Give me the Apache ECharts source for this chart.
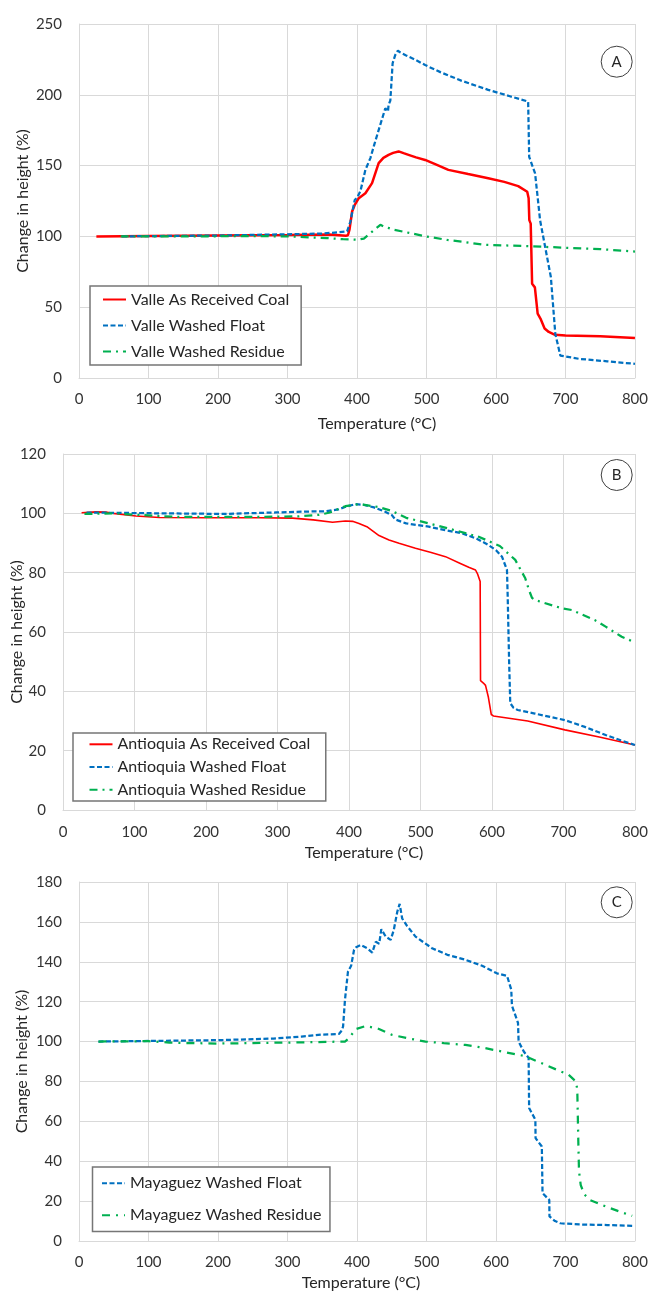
<!DOCTYPE html>
<html>
<head>
<meta charset="utf-8">
<script src="https://cdn.jsdelivr.net/npm/echarts@6/dist/echarts.min.js"></script>
<style>
html,body{margin:0;padding:0;background:#fff;}
#chart{width:651px;height:1292px;}
</style>
</head>
<body>
<div id="chart"></div>
<script>
// ---------- Data (temperature °C, change in height %) ----------
const xTicks = [0, 100, 200, 300, 400, 500, 600, 700, 800];

const valleReceived = [[25,100],[100,100.3],[200,100.6],[300,101],[360,101.3],[384,100.5],[387,100.8],[389.2,104.7],[393,117.6],[397,122.5],[402.6,127],[412.1,130.5],[421.7,137.6],[431.2,151.7],[438,155.5],[445.5,157.6],[452,159],[459.9,160],[467,158.8],[474.2,157.6],[485,155.8],[498.1,154],[515,150.5],[531.5,147],[560,144],[588.9,141.1],[612,138.5],[632,135.5],[645,131.5],[647,127],[648,111.5],[650,109],[652,66.5],[656,64],[660,45.5],[664,42],[670,35],[676,32.5],[685,30.5],[700,30],[750,29.5],[800,28.3]];
const valleFloat = [[62,100],[100,100.2],[200,100.6],[300,101.5],[350,102],[375,103],[385.8,103.5],[390.6,110.5],[396.8,125.8],[400,127],[405,132],[412.1,147],[419.3,155.3],[425,165],[433,178],[440.8,190.5],[444.6,188.2],[445.5,192.9],[448,196],[451.3,222.3],[455,228],[458.9,231.2],[462,230],[470,228],[485,224.5],[498.1,221],[520,216],[550,210],[588.9,203.5],[620,199],[646.3,195.2],[647.8,156.2],[656.3,144.5],[663.5,111.4],[670.8,92.5],[679,71.3],[685.4,31.1],[692.7,15.8],[720,13.5],[760,11.8],[800,10]];
const valleResidue = [[60,100],[150,100],[250,100.2],[300,100],[357.2,98.8],[380,98],[400.2,97.6],[410,98.5],[419.3,102.3],[433.7,108.2],[438.5,107],[445,106],[452.8,104.7],[475,102.5],[500.6,99.9],[530,97.5],[555,96],[581.9,94.1],[620,93.5],[650,93],[700,92],[750,91],[800,89.3]];

const antioquiaReceived = [[26,100.2],[46,100.5],[60,100.4],[70,100],[102,99.1],[135,98.6],[200,98.5],[275,98.5],[321,98.4],[350,97.8],[377,97],[395,97.4],[405,97.3],[414,96.6],[425,95.5],[442,92.5],[456,91],[470,89.9],[493,88.2],[515,86.8],[535,85.4],[555,83.2],[567.5,81.8],[577,80.9],[580,79.5],[583.5,77],[584,43.6],[588,42.8],[591,42],[595,38],[599,32.2],[602,31.7],[650,30],[702,27],[750,24.6],[800,21.9]];
const antioquiaFloat = [[33,100.2],[60,100.2],[100,100.1],[135,100],[228,99.8],[298,100.3],[340,100.6],[367.5,100.7],[385,101.3],[395.4,102.2],[409,103.1],[420,102.9],[435,102],[450,100.6],[460,99.4],[465,97.9],[480,96.6],[511.7,95.5],[535,94.3],[558,93.3],[580,91.3],[595.3,89.3],[606,87.5],[614,85.4],[621,80.9],[622,72],[624,50],[625.6,36],[630,34.5],[636,33.7],[660,32.5],[702,30.3],[730,28],[759,25.3],[780,23.5],[800,21.9]];
const antioquiaResidue = [[30,99.8],[70,100],[111,99.4],[157,98.8],[274,98.8],[330,99],[358,99.5],[372,100.2],[395,102.4],[414,103.1],[420,102.9],[440,102.2],[460,100.8],[480,98.5],[512,96.6],[545,94.5],[581.4,92.1],[611,89],[632.6,84.3],[646.6,78.1],[652,74],[656,71.5],[660,70.8],[697.7,68],[711.7,67.4],[744,64],[759,61.8],[781.5,58.4],[800,56.5]];

const mayaguezFloat = [[28,100],[100,100.3],[200,100.7],[280,101.5],[320,102.5],[350,103.5],[374,103.8],[377,105],[380,107.5],[382.7,120.8],[387,135],[391.6,138],[395.8,146],[398.8,147.3],[405.4,148.4],[415,146.7],[422,144.6],[427,150],[432,149.1],[435,156.3],[441.4,152.6],[448.5,151],[453,156],[458,165.1],[461.4,169],[465,161.8],[472,158],[484.3,152.6],[508,146.8],[530,143.5],[556,141],[580,138],[601.4,134.2],[616,132.9],[622,126],[623,118],[631.7,109.4],[632.6,100],[640,95],[647,91.8],[647.7,66.7],[656.7,60.8],[657,51.6],[666,47.4],[667,24],[676.7,20.6],[677,12.3],[685,10],[692.5,8.9],[720,8.3],[760,8],[799,7.6]];
const mayaguezResidue = [[28,100],[100,100.2],[130,99.5],[150,99.3],[200,99],[300,99.5],[382.7,100],[388.6,101.7],[398,106.2],[412.6,107.8],[430,106.5],[450.8,103.3],[475,101.5],[498.7,100],[525,99.2],[556,98.3],[580,97],[601.4,95.5],[642,92.7],[670,88.5],[690,85.5],[704.4,83.4],[715,80],[717,76],[718.5,50],[719.5,35],[722,28],[727,23.5],[735,20.6],[760,17],[780,14.5],[796,12.6]];

// ---------- Styling ----------
const FONT = 'Lato, "Open Sans", sans-serif';
const RED = '#FF0000', BLUE = '#0070C0', GREEN = '#00B050';
const gridColor = '#d9d9d9';

function xAxisCfg(idx, nameGap, namePadLeft, margin) {
  return {
    gridIndex: idx, type: 'value', min: 0, max: 800, interval: 100,
    name: 'Temperature (°C)', nameLocation: 'middle', nameGap: nameGap, nameMoveOverlap: false,
    nameTextStyle: { fontFamily: FONT, fontSize: 16, color: '#262626', padding: [0, 0, 0, namePadLeft] },
    axisLine: { show: true, lineStyle: { color: gridColor, width: 1 } },
    axisTick: { show: false },
    axisLabel: { fontFamily: FONT, fontSize: 15, color: '#333', margin: margin },
    splitLine: { show: true, lineStyle: { color: gridColor, width: 1 } }
  };
}
function yAxisCfg(idx, max, interval, nameGap) {
  return {
    gridIndex: idx, type: 'value', min: 0, max: max, interval: interval,
    name: 'Change in height (%)', nameLocation: 'middle', nameGap: nameGap, nameRotate: 90, nameMoveOverlap: false,
    nameTextStyle: { fontFamily: FONT, fontSize: 16, color: '#262626' },
    axisLine: { show: true, lineStyle: { color: gridColor, width: 1 } },
    axisTick: { show: false },
    axisLabel: { fontFamily: FONT, fontSize: 15, color: '#333', margin: 17 },
    splitLine: { show: true, lineStyle: { color: gridColor, width: 1 } }
  };
}
function lineSeries(name, data, idx, color, width, type) {
  return {
    name: name, type: 'line', xAxisIndex: idx, yAxisIndex: idx, data: data,
    symbol: 'none', showSymbol: false, smooth: false, animation: false,
    lineStyle: { color: color, width: width, type: type },
    itemStyle: { color: color }
  };
}
function legendCfg(names, left, top, itemGap, pad) {
  return {
    data: names, orient: 'vertical', left: left, top: top,
    itemWidth: 23, itemHeight: 14, itemGap: itemGap, padding: pad,
    borderColor: '#767676', borderWidth: 1.5, backgroundColor: '#fff',
    itemStyle: { opacity: 0 },
    textStyle: { fontFamily: FONT, fontSize: 16, color: '#262626' },
    selectedMode: false
  };
}
function circleLabel(txt, cx, cy) {
  return [
    { type: 'circle', shape: { cx: cx, cy: cy, r: 15.5 }, style: { fill: '#fff', stroke: '#404040', lineWidth: 1 }, z: 100 },
    { type: 'text', x: cx, y: cy, style: { text: txt, fontFamily: FONT, fontSize: 15, fill: '#262626', align: 'center', verticalAlign: 'middle' }, z: 101 }
  ];
}

const option = {
  animation: false,
  backgroundColor: '#fff',
  grid: [
    { left: 79, top: 24, width: 558, height: 354 },
    { left: 63, top: 454, width: 574, height: 356 },
    { left: 79, top: 882, width: 558, height: 359 }
  ],
  xAxis: [xAxisCfg(0, 38, 40, 14), xAxisCfg(1, 35, 30, 15), xAxisCfg(2, 34, 8, 14)],
  yAxis: [yAxisCfg(0, 250, 50, 48), yAxisCfg(1, 120, 20, 38), yAxisCfg(2, 180, 20, 49)],
  legend: [
    legendCfg(['Valle As Received Coal', 'Valle Washed Float', 'Valle Washed Residue'], 90, 286, 10, [5.5, 12, 5.5, 12]),
    legendCfg(['Antioquia As Received Coal', 'Antioquia Washed Float', 'Antioquia Washed Residue'], 73, 733, 6.7, [3.3, 15.5, 3.3, 15.5]),
    legendCfg(['Mayaguez Washed Float', 'Mayaguez Washed Residue'], 92.5, 1167, 16, [8.2, 8.5, 8.2, 8.5])
  ],
  series: [
    lineSeries('Valle As Received Coal', valleReceived, 0, RED, 2.5, 'solid'),
    lineSeries('Valle Washed Float', valleFloat, 0, BLUE, 2.25, [5, 2.5]),
    lineSeries('Valle Washed Residue', valleResidue, 0, GREEN, 2.25, [8, 5, 2, 5]),
    lineSeries('Antioquia As Received Coal', antioquiaReceived, 1, RED, 1.6, 'solid'),
    lineSeries('Antioquia Washed Float', antioquiaFloat, 1, BLUE, 2.25, [5, 2.5]),
    lineSeries('Antioquia Washed Residue', antioquiaResidue, 1, GREEN, 2.25, [8, 5, 2, 5]),
    lineSeries('Mayaguez Washed Float', mayaguezFloat, 2, BLUE, 2.25, [5, 2.5]),
    lineSeries('Mayaguez Washed Residue', mayaguezResidue, 2, GREEN, 2.25, [8, 6, 2, 6])
  ],
  graphic: [].concat(circleLabel('A', 616.7, 61.7), circleLabel('B', 616.7, 475), circleLabel('C', 616.7, 902.3))
};

const chart = echarts.init(document.getElementById('chart'), null, { renderer: 'canvas' });
chart.setOption(option);
</script>
</body>
</html>
